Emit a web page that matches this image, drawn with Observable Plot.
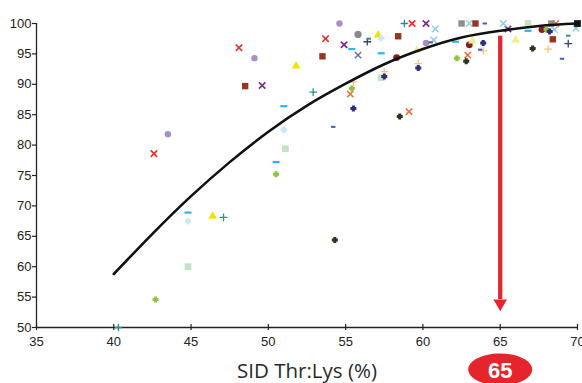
<!DOCTYPE html>
<html>
<head>
<meta charset="utf-8">
<script src="https://cdn.jsdelivr.net/npm/d3@7"></script>
<script src="https://cdn.jsdelivr.net/npm/@observablehq/plot@0.6"></script>
<style>
  html, body { margin: 0; padding: 0; background: #fff; }
  #chart { width: 582px; height: 383px; overflow: hidden; }
</style>
</head>
<body>
<div id="chart"></div>
<script>
// ---- data ----
const xTicks = [35, 40, 45, 50, 55, 60, 65, 70];
const yTicks = [50, 55, 60, 65, 70, 75, 80, 85, 90, 95, 100];
const xLabel = "SID Thr:Lys (%)";
const optimumLabel = "65";
const optimumX = 65;

// fitted response curve (read at intervals along the drawn line)
const curveX = [40, 42.5, 45, 47.5, 50, 52.5, 55, 57.5, 60, 62.5, 65, 67.5, 70];
const curveY = [58.8, 65.4, 71.6, 77.2, 82.2, 86.5, 90.1, 93.3, 95.8, 97.7, 98.8, 99.6, 100];

// observations, one array per study marker
const redX        = [[59.3,100],[53.7,97.5],[48.1,96.0],[42.6,78.6]];
const purpleX     = [[60.2,100],[65.5,99.1],[54.9,96.5],[49.6,89.8]];
const slateX      = [[55.8,94.8]];
const lightBlueX  = [[60.8,99.1],[63.0,100],[65.2,100],[68.5,99.0],[69.9,99.2],[60.7,97.3]];
const orangeX     = [[68.6,100],[62.9,94.8],[55.3,88.4],[59.1,85.5]];
const purpleDot   = [[54.6,100],[60.2,96.8],[49.1,94.3],[43.5,81.8]];
const grayDot     = [[55.8,98.2]];
const darkRedDot  = [[67.7,99.0],[63.0,96.5],[58.3,94.4]];
const brownSq     = [[63.4,100],[68.4,97.4],[58.4,97.9],[53.5,94.6],[48.5,89.7]];
const graySq      = [[62.5,100],[68.3,100]];
const lightGreenSq= [[66.8,100],[57.3,91.1],[51.1,79.4],[44.8,60.0]];
const blackSq     = [[70,100]];
const yellowTri   = [[57.1,98.1],[51.8,93.0],[46.4,68.3]];
const paleTri     = [[66.0,97.3],[63.2,97.1],[59.6,95.6]];
const tealPlus    = [[58.8,100],[52.9,88.7],[47.1,68.1],[40.3,50.0]];
const navyPlus    = [[69.4,96.7],[56.4,97.0]];
const peachPlus   = [[68.1,95.8],[63.9,95.5],[59.7,93.4],[57.5,92.1],[55.5,90.4]];
const cyanDash    = [[66.8,98.8],[62.1,97.0],[55.4,95.8],[57.3,95.1],[51.0,86.4],[50.5,77.2],[44.8,68.9]];
const blueDash    = [[64.0,100],[69.0,94.2],[63.7,95.7],[60.5,96.9],[54.2,83.0]];
const tealDash    = [[69.4,98.0],[56.5,97.5]];
const lightCyanDot= [[57.3,97.6],[51.0,82.5],[44.8,67.5]];
const greenDot    = [[68.0,99.0],[62.2,94.3],[55.4,89.3],[50.5,75.2],[42.7,54.6]];
const navyDot     = [[68.2,98.7],[63.9,96.8],[59.7,92.7],[57.5,91.3],[55.5,86.0]];
const oliveDot    = [[67.1,95.9],[62.8,93.8],[58.5,84.7],[54.3,64.4]];

// arrow from the curve down to the axis at the optimum
const arrowTop = 97.9, arrowBase = 54.6, arrowHead = 53.95;

// ---- custom symbols ----
function dash(w, h) {
  return { draw(ctx) { ctx.moveTo(-w, -h); ctx.lineTo(w, -h); ctx.lineTo(w, h); ctx.lineTo(-w, h); ctx.closePath(); } };
}
function ellipse(rx, ry) {
  const k = 0.5523;
  return { draw(ctx) {
    ctx.moveTo(rx, 0);
    ctx.bezierCurveTo(rx, ry * k, rx * k, ry, 0, ry);
    ctx.bezierCurveTo(-rx * k, ry, -rx, ry * k, -rx, 0);
    ctx.bezierCurveTo(-rx, -ry * k, -rx * k, -ry, 0, -ry);
    ctx.bezierCurveTo(rx * k, -ry, rx, -ry * k, rx, 0);
    ctx.closePath();
  } };
}
// small plus-shaped blob (Excel-style filled marker)
function blob(a, b) {
  return { draw(ctx) {
    ctx.moveTo(-b, -a); ctx.lineTo(b, -a); ctx.lineTo(b, -b); ctx.lineTo(a, -b);
    ctx.lineTo(a, b); ctx.lineTo(b, b); ctx.lineTo(b, a); ctx.lineTo(-b, a);
    ctx.lineTo(-b, b); ctx.lineTo(-a, b); ctx.lineTo(-a, -b); ctx.lineTo(-b, -b);
    ctx.closePath();
  } };
}

// ---- styles ----
const seriesStyles = [
  [redX,        {symbol: "times",  stroke: "#e8312f", r: 3.0, strokeWidth: 1.7}],
  [purpleX,     {symbol: "times",  stroke: "#7d2b8b", r: 3.0, strokeWidth: 1.7}],
  [slateX,      {symbol: "times",  stroke: "#6a70b0", r: 3.0, strokeWidth: 1.5}],
  [lightBlueX,  {symbol: "times",  stroke: "#8fcbef", r: 3.0, strokeWidth: 1.5}],
  [orangeX,     {symbol: "times",  stroke: "#f26b2f", r: 3.0, strokeWidth: 1.5}],
  [purpleDot,   {symbol: "circle", fill: "#a88dc6", r: 3.2}],
  [grayDot,     {symbol: "circle", fill: "#8a8a8a", r: 3.6}],
  [darkRedDot,  {symbol: "circle", fill: "#8b1a1a", r: 3.4}],
  [brownSq,     {symbol: "square", fill: "#9a3421", r: 3.6}],
  [graySq,      {symbol: "square", fill: "#8e8e8e", r: 3.6}],
  [lightGreenSq,{symbol: "square", fill: "#c3e3c3", r: 3.8}],
  [blackSq,     {symbol: "square", fill: "#111111", r: 3.8}],
  [yellowTri,   {symbol: "triangle", fill: "#f2e200", r: 3.2}],
  [paleTri,     {symbol: "triangle", fill: "#f3ec8f", r: 3.2}],
  [tealPlus,    {symbol: "plus",   stroke: "#2a9090", r: 2.6, strokeWidth: 1.3}],
  [navyPlus,    {symbol: "plus",   stroke: "#2c3f80", r: 2.6, strokeWidth: 1.3}],
  [peachPlus,   {symbol: "plus",   stroke: "#fbbf8a", r: 2.6, strokeWidth: 1.3}],
  [cyanDash,    {symbol: dash(3.5, 1.1), fill: "#29b6e8"}],
  [blueDash,    {symbol: dash(2.2, 1.0), fill: "#3c5fae"}],
  [tealDash,    {symbol: dash(2.2, 1.0), fill: "#2a9a6a"}],
  [lightCyanDot,{symbol: blob(3.2, 1.6), fill: "#c8e8f3"}],
  [greenDot,    {symbol: blob(3.0, 1.5), fill: "#8cc63e"}],
  [navyDot,     {symbol: blob(3.0, 1.5), fill: "#2e2c7c"}],
  [oliveDot,    {symbol: blob(3.0, 1.5), fill: "#2e3318"}]
];

const curve = curveX.map((x, i) => ({x, y: curveY[i]}));
const red = "#e5252b";

const pointMarks = seriesStyles.map(([data, s]) =>
  Plot.dot(data, {x: d => d[0], y: d => d[1], ...s})
);

const plot = Plot.plot({
  width: 582,
  height: 383,
  marginLeft: 36,
  marginRight: 5,
  marginTop: 23,
  marginBottom: 56,
  x: {domain: [35, 70]},
  y: {domain: [50, 100]},
  style: {fontFamily: "'Liberation Sans', Arial, sans-serif", fontSize: "13px", color: "#222", background: "#fff", overflow: "visible"},
  marks: [
    Plot.axisY({ticks: yTicks, tickSize: 4, tickPadding: 1, label: null, stroke: "#222", strokeWidth: 1.2, fontSize: 13}),
    Plot.axisX({ticks: xTicks, tickSize: 3, tickPadding: 6, label: null, stroke: "#222", strokeWidth: 1.2, fontSize: 13}),
    Plot.ruleX(xTicks, {y1: 50, y2: 50.5, stroke: "#222", strokeWidth: 1.2}),
    Plot.ruleX([35], {y1: 50, y2: 100, stroke: "#222", strokeWidth: 1.3}),
    Plot.ruleY([50], {x1: 35, x2: 70, stroke: "#222", strokeWidth: 1.3}),
    ...pointMarks,
    Plot.line(curve, {x: "x", y: "y", curve: "natural", stroke: "#111", strokeWidth: 2.6}),
    Plot.ruleX([optimumX], {y1: arrowTop, y2: arrowBase, stroke: red, strokeWidth: 4.3}),
    Plot.dot([optimumX], {x: d => d, y: () => arrowHead, symbol: "triangle", rotate: 180, r: 5, fill: red}),
    Plot.text([xLabel], {frameAnchor: "bottom", text: d => d, dy: 44, lineAnchor: "middle", fontSize: 20.5, fontFamily: "'Open Sans', Lato, sans-serif", fill: "#2a2a2a"}),
    Plot.dot([optimumX], {x: d => d, frameAnchor: "bottom", dy: 42, symbol: ellipse(32, 16), fill: red}),
    Plot.text([optimumLabel], {x: () => optimumX, frameAnchor: "bottom", text: d => d, dy: 43, lineAnchor: "middle", fontSize: 22, fontWeight: "bold", fontFamily: "'Liberation Sans', Arial, sans-serif", fill: "#fff"})
  ]
});
document.getElementById("chart").appendChild(plot);
</script>
</body>
</html>
